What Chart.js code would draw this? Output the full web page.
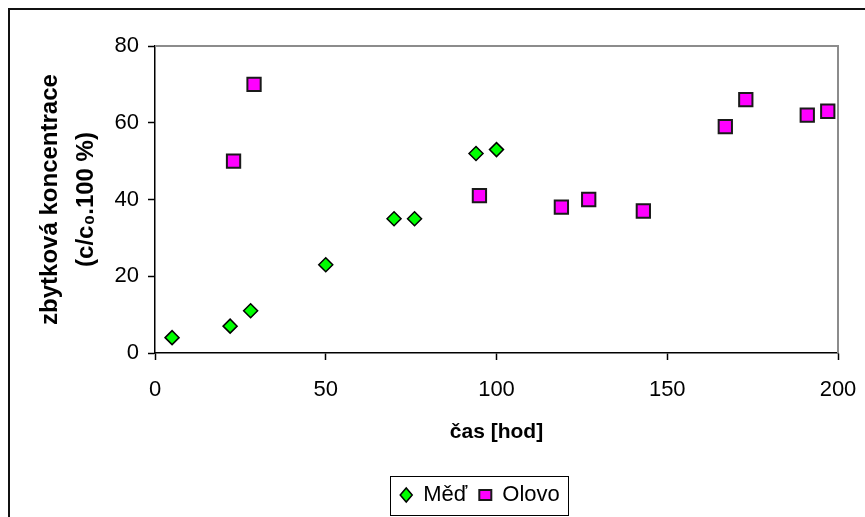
<!DOCTYPE html>
<html lang="cs">
<head>
<meta charset="utf-8">
<title>Zbytková koncentrace</title>
<script src="https://cdn.jsdelivr.net/npm/chart.js@4.4.1/dist/chart.umd.min.js"></script>
<style>
    html, body { margin: 0; padding: 0; background: #fff; }
    #graf { display: block; }
</style>
</head>
<body>
<canvas id="graf" width="865" height="517"></canvas>
<script>
// Data
const medCas = [5, 22, 28, 50, 70, 76, 94, 100];
const medKonc = [4, 7, 11, 23, 35, 35, 52, 53];
const olovoCas = [23, 29, 95, 119, 127, 143, 167, 173, 191, 197];
const olovoKonc = [50, 70, 41, 38, 40, 37, 59, 66, 62, 63];
const xTicks = [0, 50, 100, 150, 200];
const yTicks = [0, 20, 40, 60, 80];

const PISMO = "'Liberation Sans', Arial, sans-serif";

function body(xs, ys) {
    return xs.map(function(x, i) { return { x: x, y: ys[i] }; });
}

/**
 * Rámečky: celý graf, oblast grafu a legenda
 */
const ramecky = {
    id: 'ramecky',
    afterLayout(chart) {
        // legenda je v originále posunutá doprava
        const lg = chart.legend;
        const dx = 480 - (lg.left + lg.right) / 2;
        lg.left += dx;
        lg.right += dx;
    },
    beforeDraw(chart) {
        const ctx = chart.ctx;
        ctx.save();
        ctx.strokeStyle = '#111';
        ctx.lineWidth = 2;
        ctx.strokeRect(9, 9, 1000, 1000);
        ctx.restore();
    },
    beforeDatasetsDraw(chart) {
        const a = chart.chartArea;
        const ctx = chart.ctx;
        ctx.save();
        ctx.strokeStyle = '#8c8c8c';
        ctx.lineWidth = 2;
        ctx.beginPath();
        ctx.moveTo(a.left, a.top);
        ctx.lineTo(a.right, a.top);
        ctx.lineTo(a.right, a.bottom);
        ctx.stroke();
        ctx.restore();
    },
    afterDraw(chart) {
        const boxes = chart.legend.legendHitBoxes;
        if (!boxes || !boxes.length) return;
        let l = Infinity, r = -Infinity;
        boxes.forEach(function(b) {
            l = Math.min(l, b.left);
            r = Math.max(r, b.left + b.width);
        });
        const stred = boxes[0].top + boxes[0].height / 2;
        const ctx = chart.ctx;
        ctx.save();
        ctx.strokeStyle = '#000';
        ctx.lineWidth = 1;
        ctx.strokeRect(Math.round(l - 10) + 0.5, Math.round(stred - 19) + 0.5, Math.round(r - l + 18), 39);
        ctx.restore();
    }
};

new Chart(document.getElementById('graf'), {
    type: 'scatter',
    data: {
        datasets: [{
            label: 'Měď',
            data: body(medCas, medKonc),
            pointStyle: 'rectRot',
            pointRadius: 7,
            backgroundColor: '#00ff00',
            borderColor: '#000',
            borderWidth: 1.5
        }, {
            label: 'Olovo',
            data: body(olovoCas, olovoKonc),
            pointStyle: 'rect',
            pointRadius: 9.4,
            backgroundColor: '#ff00ff',
            borderColor: '#1a1a1a',
            borderWidth: 2
        }]
    },
    options: {
        responsive: false,
        animation: false,
        layout: { padding: { left: 10, top: 46, right: 27, bottom: 1 } },
        plugins: {
            tooltip: { enabled: false },
            legend: {
                position: 'bottom',
                labels: {
                    usePointStyle: true,
                    boxHeight: 10,
                    pointStyleWidth: 12,
                    padding: 12,
                    color: '#000',
                    font: { family: PISMO, size: 22 }
                }
            }
        },
        scales: {
            x: {
                type: 'linear',
                min: 0,
                max: 200,
                afterFit: function(scale) {
                    scale.height = 119;
                    scale.paddingLeft = 0;
                    scale.paddingRight = 0;
                },
                afterBuildTicks: function(scale) {
                    scale.ticks = xTicks.map(function(v) { return { value: v }; });
                },
                ticks: {
                    padding: 17,
                    color: '#000',
                    font: { family: PISMO, size: 22 }
                },
                grid: { drawOnChartArea: false, tickLength: 7, tickColor: '#000', tickWidth: 1.5 },
                border: { color: '#000', width: 1.5 },
                title: {
                    display: true,
                    text: 'čas [hod]',
                    color: '#000',
                    padding: { top: 0, bottom: 27 },
                    font: { family: PISMO, size: 21, weight: 'bold' }
                }
            },
            y: {
                min: 0,
                max: 80,
                afterFit: function(scale) { scale.width = 145; },
                afterBuildTicks: function(scale) {
                    scale.ticks = yTicks.map(function(v) { return { value: v }; });
                },
                ticks: {
                    padding: 9,
                    color: '#000',
                    font: { family: PISMO, size: 22 }
                },
                grid: { drawOnChartArea: false, tickLength: 7, tickColor: '#000', tickWidth: 1.5 },
                border: { color: '#000', width: 1.5 },
                title: {
                    display: true,
                    text: ['zbytková koncentrace', '(c/c₀.100 %)'],
                    color: '#000',
                    padding: { top: 22, bottom: 0 },
                    font: { family: PISMO, size: 24, weight: 'bold', lineHeight: 1.5 }
                }
            }
        }
    },
    plugins: [ramecky]
});
</script>
</body>
</html>
